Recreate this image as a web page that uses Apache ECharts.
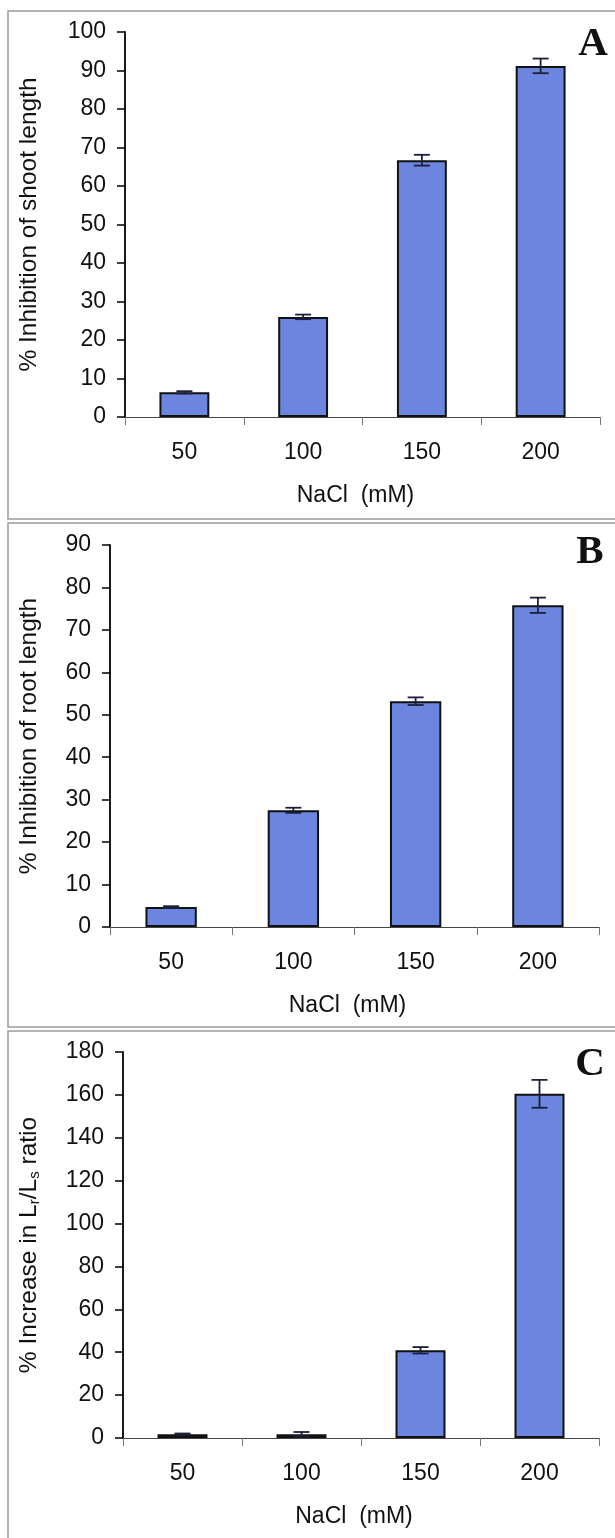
<!DOCTYPE html>
<html><head><meta charset="utf-8">
<script src="https://cdn.jsdelivr.net/npm/echarts@6/dist/echarts.min.js"></script>
<style>html,body{margin:0;padding:0;background:#fff}#c{width:615px;height:1538px}</style>
</head><body><div id="c"></div>
<script>
// ---- data ----
const categories = ['50', '100', '150', '200'];
const shootInhibition = [6.4, 26.0, 66.7, 91.2];
const shootErr = [0.3, 0.6, 1.4, 1.9];
const rootInhibition = [4.7, 27.5, 53.2, 75.8];
const rootErr = [0.2, 0.6, 0.9, 1.8];
const ratioIncrease = [1.8, 1.8, 40.9, 160.5];
const ratioErr = [0.3, 1.0, 1.5, 6.5];
const xTitle = 'NaCl  (mM)';
const yTitleA = '% Inhibition of shoot length';
const yTitleB = '% Inhibition of root length';
const yTitleC = '% Increase in L{sub|r}/L{sub|s} ratio';
const panelLetters = ['A', 'B', 'C'];

const FONT = '"Liberation Sans", Arial, sans-serif';
const BAR = '#6c86df';
const grids = [
  {left: 125, top: 32, width: 475, height: 385},
  {left: 110, top: 545, width: 489, height: 382},
  {left: 123, top: 1052, width: 476, height: 386}
];
const yCfg = [
  {max: 100, interval: 10, gap: 83, name: yTitleA},
  {max: 90, interval: 10, gap: 68, name: yTitleB},
  {max: 180, interval: 20, gap: 81, name: yTitleC}
];
const seriesVals = [shootInhibition, rootInhibition, ratioIncrease];
const seriesErr = [shootErr, rootErr, ratioErr];

function errItem(params, api) {
  const x = api.value(0), y = api.value(1), e = api.value(2);
  const hi = api.coord([x, y + e]), lo = api.coord([x, y - e]);
  const w = 8, st = {stroke: '#1b1f3a', lineWidth: 1.8};
  return {type: 'group', children: [
    {type: 'line', shape: {x1: hi[0], y1: hi[1], x2: lo[0], y2: lo[1]}, style: st},
    {type: 'line', shape: {x1: hi[0] - w, y1: hi[1], x2: hi[0] + w, y2: hi[1]}, style: st},
    {type: 'line', shape: {x1: lo[0] - w, y1: lo[1], x2: lo[0] + w, y2: lo[1]}, style: st}
  ]};
}

const xAxis = [], yAxis = [], series = [];
grids.forEach((g, i) => {
  xAxis.push({
    type: 'category', gridIndex: i, data: categories, boundaryGap: true,
    axisLine: {lineStyle: {color: '#444', width: 1.2}},
    axisTick: {show: true, alignWithLabel: false, length: 8, lineStyle: {color: '#777', width: 1}},
    axisLabel: {fontFamily: FONT, fontSize: 23, color: '#111', margin: 24},
    name: xTitle, nameLocation: 'middle', nameGap: 67,
    nameTextStyle: {fontFamily: FONT, fontSize: 23, color: '#111', padding: [0, 14, 0, 0]}
  });
  yAxis.push({
    type: 'value', gridIndex: i, min: 0, max: yCfg[i].max, interval: yCfg[i].interval,
    axisLine: {show: true, lineStyle: {color: '#000', width: 1.8}},
    axisTick: {show: true, inside: false, length: 8, lineStyle: {color: '#000', width: 1.5}},
    axisLabel: {fontFamily: FONT, fontSize: 23, color: '#111', margin: 19},
    splitLine: {show: false},
    name: yCfg[i].name, nameLocation: 'middle', nameRotate: 90, nameGap: yCfg[i].gap,
    nameTextStyle: {fontFamily: FONT, fontSize: 24.5, color: '#111',
      rich: {sub: {fontFamily: FONT, fontSize: 15, color: '#111', padding: [10, 0, 0, 0]}}}
  });
  series.push({
    type: 'bar', xAxisIndex: i, yAxisIndex: i, data: seriesVals[i], barWidth: '42%',
    itemStyle: {color: BAR, borderColor: '#111', borderWidth: 2}, silent: true
  });
  series.push({
    type: 'custom', xAxisIndex: i, yAxisIndex: i, renderItem: errItem, z: 5, silent: true,
    encode: {x: 0, y: 1},
    data: categories.map((c, k) => [k, seriesVals[i][k], seriesErr[i][k]])
  });
});

const frames = [[11, 508], [523, 504], [1031, 600]];
const letterPos = [[593, 44], [590, 552], [590, 1064]];
const graphic = [];
frames.forEach(f => graphic.push({type: 'rect', shape: {x: 8, y: f[0], width: 640, height: f[1]},
  style: {fill: 'none', stroke: '#9a9a9a', lineWidth: 1.5}, silent: true}));
letterPos.forEach((p, i) => graphic.push({type: 'text', x: p[0], y: p[1],
  style: {text: panelLetters[i], font: 'bold 41px "Liberation Serif", "Times New Roman", serif',
    fill: '#111', align: 'center', verticalAlign: 'middle'}, silent: true}));

const chart = echarts.init(document.getElementById('c'), null, {renderer: 'canvas'});
chart.setOption({
  animation: false, backgroundColor: '#fff',
  grid: grids, xAxis, yAxis, series, graphic
});
</script></body></html>
